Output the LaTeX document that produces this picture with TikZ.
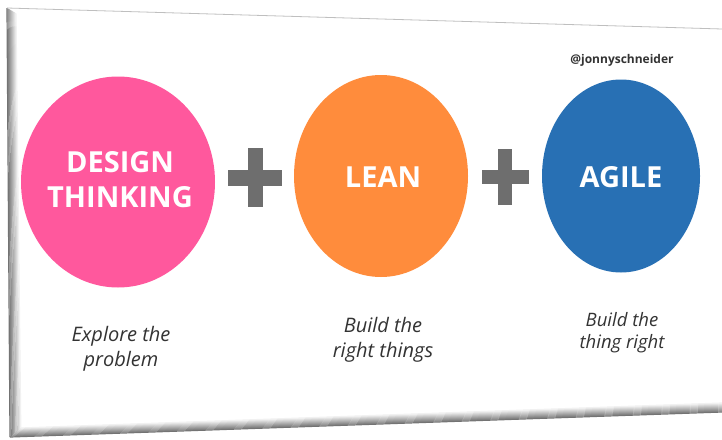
\documentclass[tikz,border=0pt]{standalone}
\usepackage{fontspec}
\setmainfont{Open Sans}
\usetikzlibrary{shapes.geometric}
\definecolor{dtpink}{HTML}{FF589D}
\definecolor{leanorange}{HTML}{FF8C3C}
\definecolor{agileblue}{HTML}{2870B4}
\definecolor{plusgray}{HTML}{6E6E6E}
\definecolor{captext}{HTML}{333333}
\tikzset{
  bubble/.style={ellipse, inner sep=0pt, text=white, align=center},
  bubbletext/.style={font=\fontsize{29}{35}\selectfont\bfseries},
  caption/.style={align=center, inner sep=0pt, text=captext, font=\fontsize{20}{25}\selectfont\itshape},
  plusfill/.style={fill=plusgray},
}
\begin{document}
\begin{tikzpicture}[x=1pt,y=-1pt]
\useasboundingbox (0,0) rectangle (722,439);
\fill[white] (0,0) rectangle (722,439);
% slide body
\fill[white] (7,8) -- (722,29) -- (722,408) -- (10,437) -- cycle;
% bottom edge shading
\foreach \t in {0,0.1,...,1.0} {
  \pgfmathsetmacro{\shade}{55*(1-\t)}
  \draw[black!\shade, line width=1.2pt] (10+12*\t,437-10*\t) -- (722,412-10*\t);
}
% left edge shading
\foreach \t in {0,0.1,...,1.0} {
  \pgfmathsetmacro{\shade}{55*(1-\t)}
  \draw[black!\shade, line width=1.2pt] (7+10*\t,8+6*\t) -- (10+12*\t,437-10*\t);
}
\draw[black!25, line width=0.8pt] (7,8) -- (722,29);
% circles
\node[bubble, fill=dtpink, minimum width=194pt, minimum height=211pt] (dt) at (118,182) {};
\node[bubble, fill=leanorange, minimum width=174pt, minimum height=202pt] (lean) at (381,176) {};
\node[bubble, fill=agileblue, minimum width=158pt, minimum height=193pt] (agile) at (621,176) {};
\node[inner sep=0pt, text=white, align=center, bubbletext] (dtlabel) at (120,180) {DESIGN\\THINKING};
\node[inner sep=0pt, text=white, bubbletext] (leanlabel) at (383,177) {LEAN};
\node[inner sep=0pt, text=white, bubbletext] (agilelabel) at (621,177) {AGILE};
% plus signs
\fill[plusfill] (228,170) rectangle (282,186);
\fill[plusfill] (247.5,148) rectangle (262.5,207);
\fill[plusfill] (482,170) rectangle (529,184);
\fill[plusfill] (498,149) rectangle (512,205);
% handle
\node[inner sep=0pt, text=black!80, font=\fontsize{12}{14}\selectfont\bfseries] (handle) at (622,60) {@jonnyschneider};
% captions
\node[caption] (cap1) at (121,349) {Explore the\\problem};
\node[caption] (cap2) at (383,340) {Build the\\right things};
\node[caption, font=\fontsize{18.5}{22}\selectfont\itshape] (cap3) at (622,333) {Build the\\thing right};
\end{tikzpicture}
\end{document}
